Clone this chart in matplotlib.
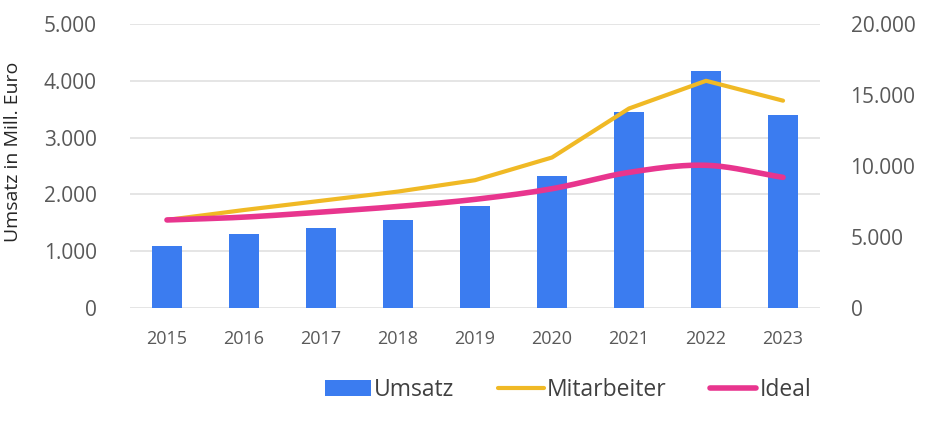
import numpy as np
import matplotlib
matplotlib.use("Agg")
import matplotlib.pyplot as plt

plt.rcParams['font.family'] = ['Open Sans', 'DejaVu Sans']

years = ["2015", "2016", "2017", "2018", "2019", "2020", "2021", "2022", "2023"]
umsatz = [1100, 1300, 1400, 1550, 1800, 2320, 3450, 4170, 3400]
mitarbeiter = [6200, 6900, 7550, 8200, 9000, 10600, 14050, 16000, 14600]
ideal = [6200, 6400, 6750, 7150, 7650, 8400, 9550, 10050, 9200]
left_ticks = [0, 1000, 2000, 3000, 4000, 5000]
right_ticks = [0, 5000, 10000, 15000, 20000]


def fmt(v):
    return f"{v:,}".replace(",", ".")


def smooth(x, y, n=20):
    x = np.asarray(x, float); y = np.asarray(y, float)
    xp = np.concatenate([[2 * x[0] - x[1]], x, [2 * x[-1] - x[-2]]])
    yp = np.concatenate([[2 * y[0] - y[1]], y, [2 * y[-1] - y[-2]]])
    xs, ys = [], []
    for i in range(1, len(xp) - 2):
        t = np.linspace(0, 1, n, endpoint=False)
        for arr, out in ((xp, xs), (yp, ys)):
            p0, p1, p2, p3 = arr[i - 1], arr[i], arr[i + 1], arr[i + 2]
            out.extend(0.5 * (2 * p1 + (-p0 + p2) * t + (2 * p0 - 5 * p1 + 4 * p2 - p3) * t ** 2
                              + (-p0 + 3 * p1 - 3 * p2 + p3) * t ** 3))
    xs.append(x[-1]); ys.append(y[-1])
    return np.array(xs), np.array(ys)


fig = plt.figure(figsize=(9.39, 4.48), dpi=100)
ax = fig.add_axes([130 / 939, 1 - 308 / 448, 690 / 939, 284 / 448])
ax2 = ax.twinx()

x = np.arange(len(years))
b = ax.bar(x, umsatz, width=0.39, color="#3b7cf0", label="Umsatz", zorder=2)
l1, = ax2.plot(x, mitarbeiter, color="#f0b925", lw=3, label="Mitarbeiter",
               solid_capstyle="round", solid_joinstyle="round")
xs, ys = smooth(x, ideal)
l2, = ax2.plot(xs, ys, color="#e8358e", lw=4, label="Ideal", solid_capstyle="round")

ax.set_xlim(-0.48, len(years) - 0.52)
ax.set_ylim(0, 5000)
ax2.set_ylim(0, 20000)
ax.set_yticks(left_ticks)
ax.set_yticklabels([fmt(v) for v in left_ticks])
ax2.set_yticks(right_ticks)
ax2.set_yticklabels([fmt(v) for v in right_ticks])
ax.set_xticks(x)
ax.set_xticklabels(years)
ax.grid(axis="y", color="#e0e0e0", lw=1.2, zorder=0)
ax.set_axisbelow(True)
for a in (ax, ax2):
    for s in a.spines.values():
        s.set_visible(False)
ax.tick_params(axis="y", length=0, labelsize=15, labelcolor="#595959", pad=24)
ax2.tick_params(axis="y", length=0, labelsize=15, labelcolor="#595959", pad=22)
ax.tick_params(axis="x", length=0, labelsize=13, labelcolor="#595959", pad=16)
ax.set_ylabel("Umsatz in Mill. Euro", fontsize=14, color="#262626")
ax.yaxis.set_label_coords(-0.157, 0.55)

fig.legend(handles=[b, l1, l2], loc="center", bbox_to_anchor=(568 / 939, 1 - 390 / 448),
           ncol=3, frameon=False, fontsize=16.5, labelcolor="#404040",
           handlelength=2.0, handletextpad=0.15, columnspacing=1.9)

fig.savefig("out.png", dpi=100)
